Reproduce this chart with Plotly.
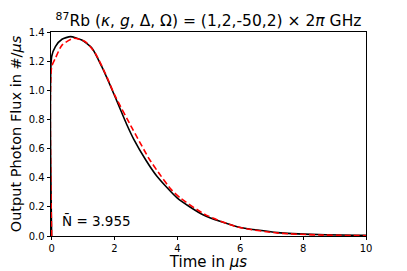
import plotly.graph_objects as go

# black solid curve (simulation)
t_black = [0, 0, 0.12, 0.33, 0.6, 0.96, 1.28, 1.6, 1.93, 2.4, 2.61, 3.0, 3.35, 4.0, 4.83, 5.9, 7.2, 8.5, 10]
flux_black = [0, 1.23, 1.30, 1.35, 1.368, 1.345, 1.29, 1.16, 1.0, 0.76, 0.665, 0.52, 0.41, 0.26, 0.144, 0.064, 0.023, 0.01, 0.004]

# red dashed curve (model)
t_red = [0, 0, 0.12, 0.33, 0.7, 1.07, 1.39, 1.76, 2.0, 2.56, 2.72, 3.1, 3.45, 3.8, 4.1, 4.9, 5.9, 7.2, 8.5, 10]
flux_red = [0, 1.16, 1.22, 1.31, 1.357, 1.334, 1.254, 1.09, 0.97, 0.74, 0.677, 0.53, 0.42, 0.32, 0.26, 0.145, 0.062, 0.02, 0.007, 0.002]

n_mean = "3.955"
font = "DejaVu Sans"

fig = go.Figure()
fig.add_trace(go.Scatter(x=t_black, y=flux_black, mode='lines',
                         line=dict(color='black', width=1.6, shape='spline', smoothing=0.6)))
fig.add_trace(go.Scatter(x=t_red, y=flux_red, mode='lines',
                         line=dict(color='red', width=1.6, dash='6px,3px', shape='spline', smoothing=0.6)))

fig.add_annotation(x=0.03, y=0.075, xref='paper', yref='paper', xanchor='left', yanchor='middle',
                   text="N\u0304 = " + n_mean, showarrow=False,
                   font=dict(family=font, size=13.5, color='black'))

axis = dict(showgrid=False, zeroline=False, showline=True, linecolor='black', linewidth=0.8,
            mirror=True, ticks='outside', ticklen=3.5, tickwidth=0.8, tickcolor='black',
            automargin=False, tickfont=dict(family=font, size=10, color='black'))

fig.update_xaxes(range=[-0.02, 10], tickvals=[0, 2, 4, 6, 8, 10],
                 title=dict(text="Time in <i>μs</i>", standoff=2,
                            font=dict(family=font, size=15, color='black')), **axis)
fig.update_yaxes(range=[0, 1.4], dtick=0.2, tickformat='.1f',
                 title=dict(text="Output Photon Flux in #/<i>μs</i>", standoff=4,
                            font=dict(family=font, size=14.5, color='black')), **axis)

# page body has an 8px margin, so the figure is sized/offset to land on the window
fig.update_layout(
    width=399, height=263,
    margin=dict(l=43, r=41, t=24, b=35),
    plot_bgcolor='white', paper_bgcolor='white',
    showlegend=False,
    title=dict(text="<sup>87</sup>Rb (<i>κ</i>, <i>g</i>, Δ, Ω) = (1,2,-50,2) × 2<i>π</i> GHz",
               x=0.5, xref='paper', y=1 - 13 / 263, yref='container', yanchor='middle',
               font=dict(family=font, size=15.5, color='black')),
)

fig.write_html("out.html")
